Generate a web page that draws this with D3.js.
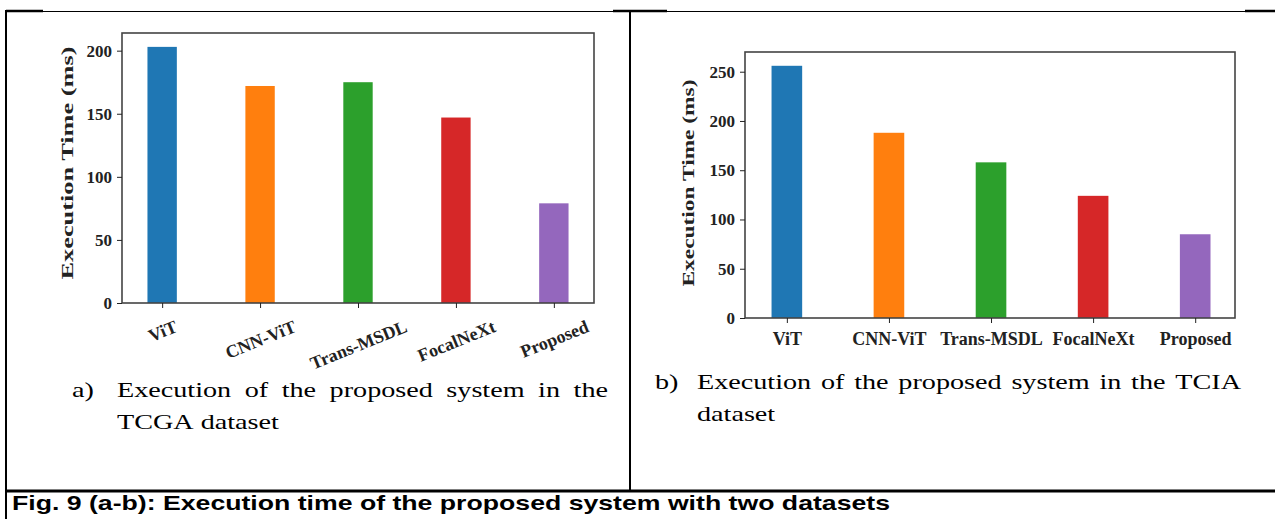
<!DOCTYPE html>
<html>
<head>
<meta charset="utf-8">
<script src="https://cdn.jsdelivr.net/npm/d3@7"></script>
<style>
  html, body { margin: 0; padding: 0; background: #fff; }
  svg { display: block; }
</style>
</head>
<body>
<svg id="fig" width="1275" height="519"></svg>
<script>
// data
const models = ['ViT', 'CNN-ViT', 'Trans-MSDL', 'FocalNeXt', 'Proposed'];
const tcgaTimes = [203, 172, 175, 147, 79];
const tciaTimes = [256, 188, 158, 124, 85];
const tcgaTicks = [0, 50, 100, 150, 200];
const tciaTicks = [0, 50, 100, 150, 200, 250];
const barColors = ['#1f77b4', '#ff7f0e', '#2ca02c', '#d62728', '#9467bd'];

const svg = d3.select('#fig');
const SERIF = "'Liberation Serif', 'Times New Roman', serif";

// table borders
const border = svg.append('g').attr('stroke', '#000');
border.append('line').attr('x1', 6).attr('x2', 1275).attr('y1', 11.5).attr('y2', 11.5).attr('stroke-width', 1);
[[6, 43], [613, 667], [1245, 1275]].forEach(([a, b]) =>
  border.append('line').attr('x1', a).attr('x2', b).attr('y1', 11).attr('y2', 11).attr('stroke-width', 2.5));
border.append('line').attr('x1', 6).attr('x2', 6).attr('y1', 10).attr('y2', 519).attr('stroke-width', 2);
border.append('line').attr('x1', 630).attr('x2', 630).attr('y1', 10).attr('y2', 491).attr('stroke-width', 2);
border.append('line').attr('x1', 6).attr('x2', 1275).attr('y1', 491).attr('y2', 491).attr('stroke-width', 3);

function drawPanel(cfg) {
  const g = svg.append('g');
  const x = d3.scaleLinear().domain(cfg.xDomain).range([cfg.left, cfg.right]);
  const y = d3.scaleLinear().domain([0, cfg.yMax]).range([cfg.bottom, cfg.top]);
  const bw = x(0.3) - x(0);

  g.selectAll('rect.bar').data(cfg.values).join('rect')
    .attr('class', 'bar')
    .attr('x', (d, i) => x(i) - bw / 2)
    .attr('y', d => y(d))
    .attr('width', bw)
    .attr('height', d => y(0) - y(d))
    .attr('fill', (d, i) => barColors[i]);

  g.append('rect')
    .attr('x', cfg.left).attr('y', cfg.top)
    .attr('width', cfg.right - cfg.left).attr('height', cfg.bottom - cfg.top)
    .attr('fill', 'none').attr('stroke', '#444').attr('stroke-width', 1.6);

  const ya = g.append('g')
    .attr('transform', `translate(${cfg.left},0)`)
    .call(d3.axisLeft(y).tickValues(cfg.ticks).tickSize(5).tickPadding(5));
  ya.select('.domain').remove();

  const xa = g.append('g')
    .attr('transform', `translate(0,${cfg.bottom})`)
    .call(d3.axisBottom(x).tickValues(d3.range(models.length)).tickSize(5)
      .tickPadding(cfg.xPad).tickFormat(i => models[i]));
  xa.select('.domain').remove();

  [ya, xa].forEach(a => a.attr('font-family', SERIF).attr('font-weight', 'bold')
    .attr('font-size', 17).attr('color', '#222'));
  xa.attr('font-size', cfg.xFont);

  if (cfg.rotate) {
    const th = cfg.rotate * Math.PI / 180;
    xa.selectAll('.tick text').each(function () {
      const L = this.getComputedTextLength();
      const cy = cfg.xPad + (L * Math.sin(th) + cfg.xFont * Math.cos(th)) / 2;
      d3.select(this).attr('y', 0).attr('dy', '0.35em')
        .attr('transform', `translate(0,${cy}) rotate(${-cfg.rotate})`);
    });
  }

  g.append('text')
    .attr('transform', `translate(${cfg.ylabX},${cfg.ylabY}) rotate(-90)`)
    .attr('text-anchor', 'middle').attr('dominant-baseline', 'central')
    .attr('font-family', SERIF).attr('font-weight', 'bold').attr('font-size', 17)
    .attr('fill', '#222')
    .attr('textLength', cfg.ylabLen).attr('lengthAdjust', 'spacingAndGlyphs')
    .text('Execution Time (ms)');
}

drawPanel({
  values: tcgaTimes, ticks: tcgaTicks, yMax: 214, xDomain: [-0.41, 4.41],
  left: 122, right: 594, top: 33, bottom: 303,
  rotate: 22, xPad: 14, xFont: 18,
  ylabX: 67, ylabY: 163, ylabLen: 233
});

drawPanel({
  values: tciaTimes, ticks: tciaTicks, yMax: 270, xDomain: [-0.41, 4.39],
  left: 745, right: 1235, top: 52, bottom: 318,
  rotate: 0, xPad: 9, xFont: 18,
  ylabX: 688, ylabY: 183, ylabLen: 207
});

// sub-captions (text in the picture is stretched wide, so words get a textLength)
const capSize = 22, stretch = 1.28;
const caps = svg.append('g').attr('font-family', SERIF).attr('font-size', capSize).attr('fill', '#000');

function wordRow(words, x0, baseline, x1) {
  const nodes = words.map(w => caps.append('text').attr('y', baseline).text(w));
  const widths = nodes.map(n => n.node().getComputedTextLength() * stretch);
  let gap = 0.25 * capSize * stretch;
  if (x1 != null && words.length > 1) gap = (x1 - x0 - d3.sum(widths)) / (words.length - 1);
  let cx = x0;
  nodes.forEach((n, i) => {
    n.attr('x', cx).attr('textLength', widths[i]).attr('lengthAdjust', 'spacingAndGlyphs');
    cx += widths[i] + gap;
  });
}

wordRow(['a)'], 72, 397);
wordRow('Execution of the proposed system in the'.split(' '), 117, 397, 608);
wordRow('TCGA dataset'.split(' '), 117, 429);

wordRow(['b)'], 655, 389);
wordRow('Execution of the proposed system in the TCIA'.split(' '), 697, 389, 1241);
wordRow(['dataset'], 697, 421);

svg.append('text')
  .attr('x', 12).attr('y', 510)
  .attr('font-family', "'Liberation Sans', Arial, sans-serif").attr('font-weight', 'bold')
  .attr('font-size', 21).attr('fill', '#000')
  .attr('textLength', 878).attr('lengthAdjust', 'spacingAndGlyphs')
  .text('Fig. 9 (a-b): Execution time of the proposed system with two datasets');
</script>
</body>
</html>
